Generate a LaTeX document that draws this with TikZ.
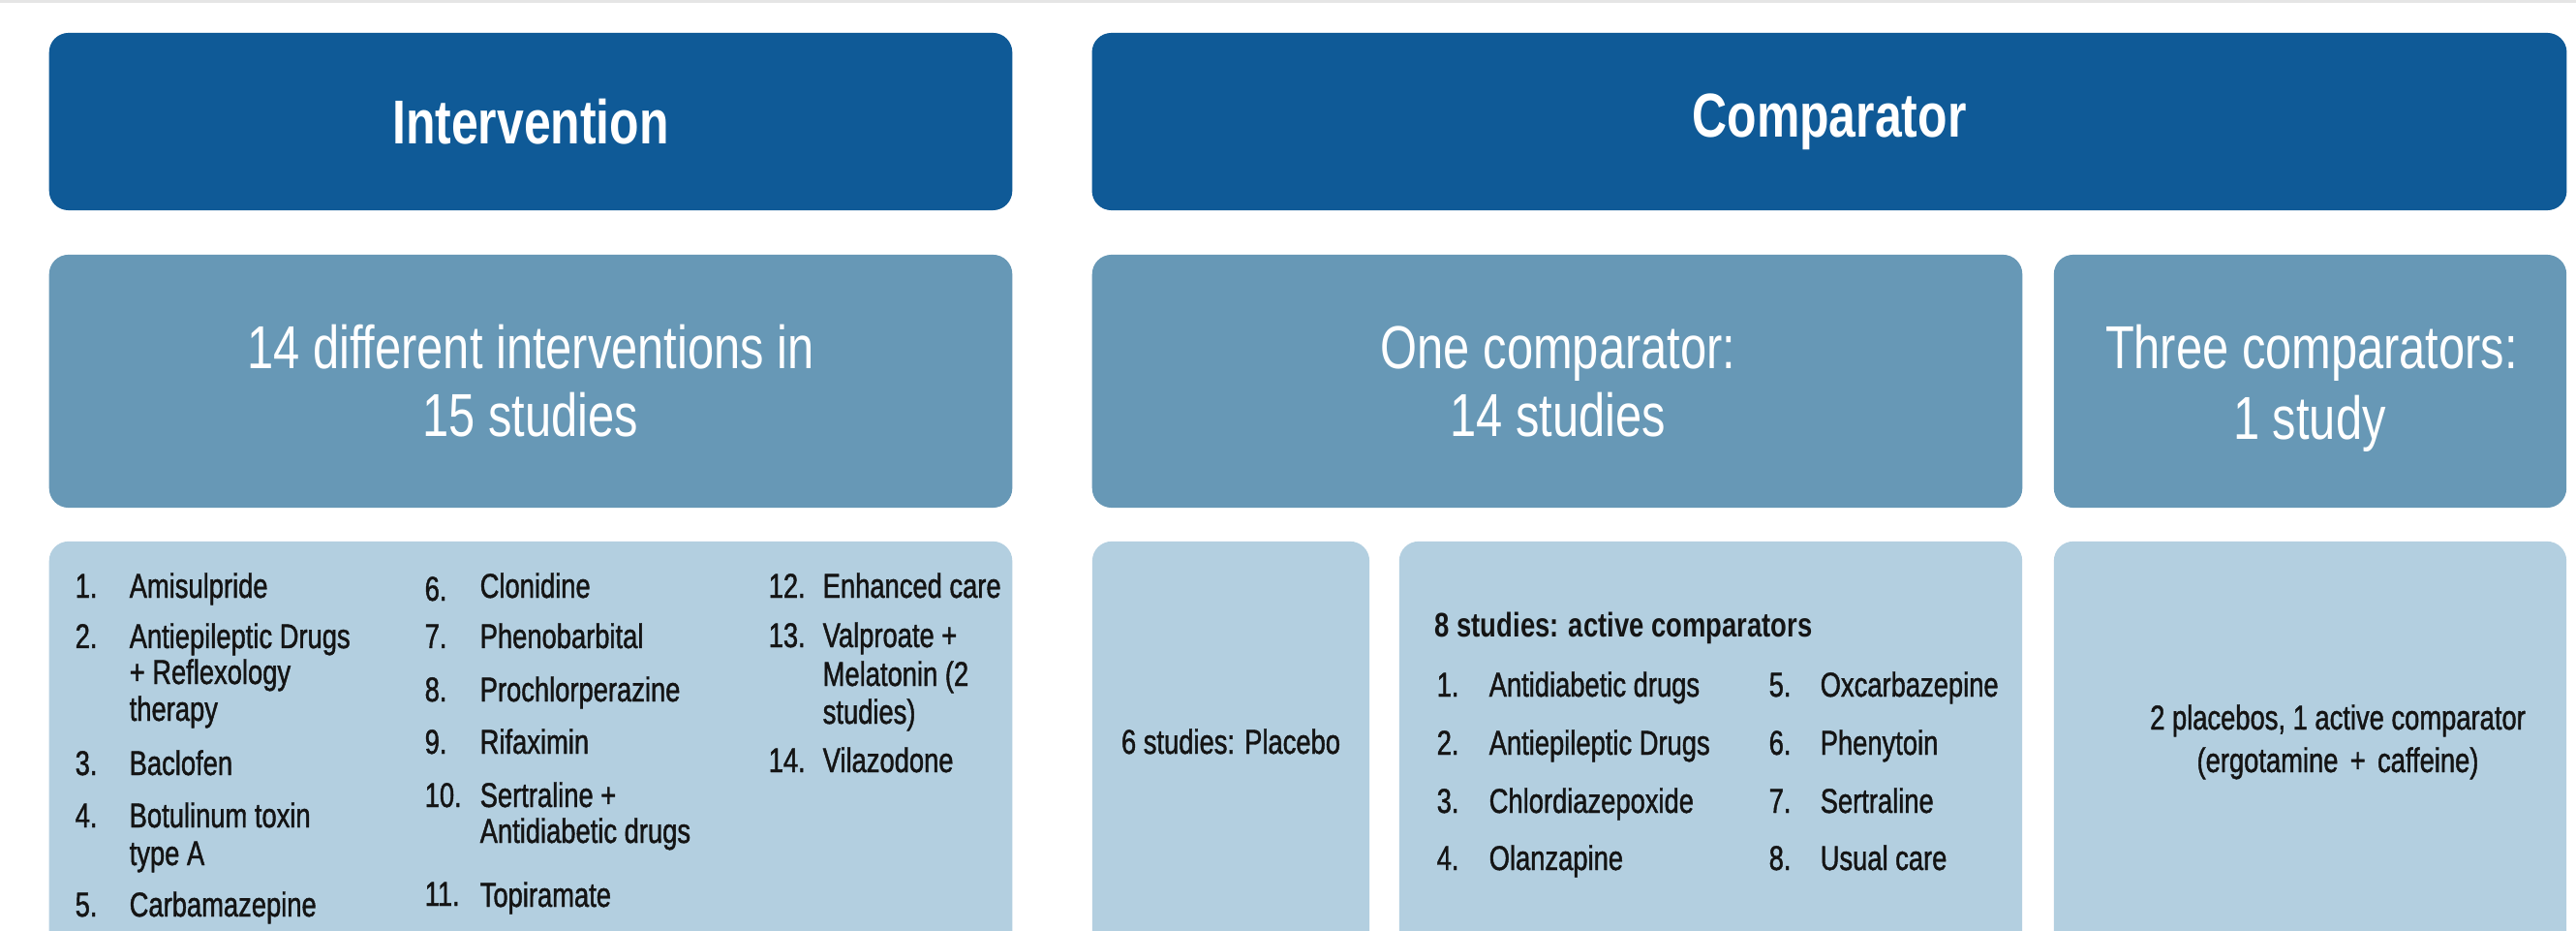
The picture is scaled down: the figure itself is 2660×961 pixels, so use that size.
\documentclass[tikz,border=0pt]{standalone}
\usepackage{fontspec}
\setmainfont{Liberation Sans}[FakeStretch=0.78]
\newfontfamily\medfam{Liberation Sans}[FakeStretch=0.77,FakeBold=1.2]
\definecolor{hdr}{RGB}{15,90,151}
\definecolor{midb}{RGB}{103,152,182}
\definecolor{liteb}{RGB}{179,207,224}
\definecolor{ink}{RGB}{20,20,20}
\begin{document}
\begin{tikzpicture}[x=0.01cm,y=-0.01cm,
  panel/.style={rectangle,rounded corners=5.7pt,inner sep=0pt,draw=none},
  hdrbox/.style={panel,fill=hdr,minimum height=1.83cm},
  midbox/.style={panel,fill=midb,minimum height=2.61cm},
  litebox/.style={panel,fill=liteb,minimum height=4.41cm},
  hdrtxt/.style={anchor=base,inner sep=0pt,text=white,font=\bfseries\fontsize{18.2}{22}\selectfont},
  midtxt/.style={anchor=base,inner sep=0pt,text=white,font=\fontsize{17.8}{21}\selectfont},
  item/.style={anchor=base west,inner sep=0pt,text=ink,font=\medfam\fontsize{10.1}{12}\selectfont},
  ctxt/.style={anchor=base,inner sep=0pt,text=ink,font=\medfam\fontsize{10.1}{12}\selectfont}]
\clip (0,0) rectangle (2660,961);
\fill[white] (0,0) rectangle (2660,961);
\draw[black!10,line width=0.9pt] (0,1) -- (2660,1);

% header row
\node[hdrbox,minimum width=9.94cm] (intH) at (548,125.5) {};
\node[hdrbox,minimum width=15.22cm] (cmpH) at (1889,125.5) {};
\node[hdrtxt] (intHt) at (548,149) {Intervention};
\node[hdrtxt] (cmpHt) at (1889,142) {Comparator};

% second row
\node[midbox,minimum width=9.94cm] (intS) at (548,393.5) {};
\node[midbox,minimum width=9.60cm] (oneS) at (1608,393.5) {};
\node[midbox,minimum width=5.29cm] (thrS) at (2385.5,393.5) {};
\node[midtxt] (intSa) at (548,380.5) {14 different interventions in};
\node[midtxt] (intSb) at (548,451) {15 studies};
\node[midtxt] (oneSa) at (1609,380.5) {One comparator:};
\node[midtxt] (oneSb) at (1609,451) {14 studies};
\node[midtxt] (thrSa) at (2387,381) {Three comparators:};
\node[midtxt] (thrSb) at (2385,454) {1 study};

% third row
\node[litebox,minimum width=9.94cm] (intL) at (548,779.5) {};
\node[litebox,minimum width=2.86cm] (plac) at (1271,779.5) {};
\node[litebox,minimum width=6.43cm] (act) at (1766.5,779.5) {};
\node[litebox,minimum width=5.29cm] (two) at (2385.5,779.5) {};

% intervention list, column 1
\node[item] (n1) at (77,617) {1.};   \node[item] (t1) at (133,617) {Amisulpride};
\node[item] (n2) at (77,669) {2.};   \node[item] (t2a) at (133,669) {Antiepileptic Drugs};
\node[item] (t2b) at (133,706) {+ Reflexology};
\node[item] (t2c) at (133,744) {therapy};
\node[item] (n3) at (77,800) {3.};   \node[item] (t3) at (133,800) {Baclofen};
\node[item] (n4) at (77,854) {4.};   \node[item] (t4a) at (133,854) {Botulinum toxin};
\node[item] (t4b) at (133,893) {type A};
\node[item] (n5) at (77,946) {5.};   \node[item] (t5) at (133,946) {Carbamazepine};
% column 2
\node[item] (n6) at (438,620) {6.};  \node[item] (t6) at (495,617) {Clonidine};
\node[item] (n7) at (438,669) {7.};  \node[item] (t7) at (495,669) {Phenobarbital};
\node[item] (n8) at (438,724) {8.};  \node[item] (t8) at (495,724) {Prochlorperazine};
\node[item] (n9) at (438,778) {9.};  \node[item] (t9) at (495,778) {Rifaximin};
\node[item] (n10) at (438,833) {10.}; \node[item] (t10a) at (495,833) {Sertraline +};
\node[item] (t10b) at (495,870) {Antidiabetic drugs};
\node[item] (n11) at (438,935) {11.}; \node[item] (t11) at (495,936) {Topiramate};
% column 3
\node[item] (n12) at (793,617) {12.}; \node[item] (t12) at (849,617) {Enhanced care};
\node[item] (n13) at (793,668) {13.}; \node[item] (t13a) at (849,668) {Valproate +};
\node[item] (t13b) at (849,708) {Melatonin (2};
\node[item] (t13c) at (849,747) {studies)};
\node[item] (n14) at (793,797) {14.}; \node[item] (t14) at (849,797) {Vilazodone};

% placebo
\node[ctxt] (placT) at (1271,778) {6 studies: Placebo};

% active comparators
\node[item,font=\bfseries\fontsize{10}{12}\selectfont] (actT) at (1481,657) {8 studies: active comparators};
\node[item] (a1) at (1483,719) {1.}; \node[item] (b1) at (1537,719) {Antidiabetic drugs};
\node[item] (a2) at (1483,779) {2.}; \node[item] (b2) at (1537,779) {Antiepileptic Drugs};
\node[item] (a3) at (1483,839) {3.}; \node[item] (b3) at (1537,839) {Chlordiazepoxide};
\node[item] (a4) at (1483,898) {4.}; \node[item] (b4) at (1537,898) {Olanzapine};
\node[item] (a5) at (1826,719) {5.}; \node[item] (b5) at (1879,719) {Oxcarbazepine};
\node[item] (a6) at (1826,779) {6.}; \node[item] (b6) at (1879,779) {Phenytoin};
\node[item] (a7) at (1826,839) {7.}; \node[item] (b7) at (1879,839) {Sertraline};
\node[item] (a8) at (1826,898) {8.}; \node[item] (b8) at (1879,898) {Usual care};

% three comparators
\node[ctxt] (twoA) at (2414,753) {2 placebos, 1 active comparator};
\node[ctxt] (twoB) at (2414,797) {(ergotamine\hspace{3.5pt}+\hspace{3.5pt}caffeine)};
\end{tikzpicture}
\end{document}
